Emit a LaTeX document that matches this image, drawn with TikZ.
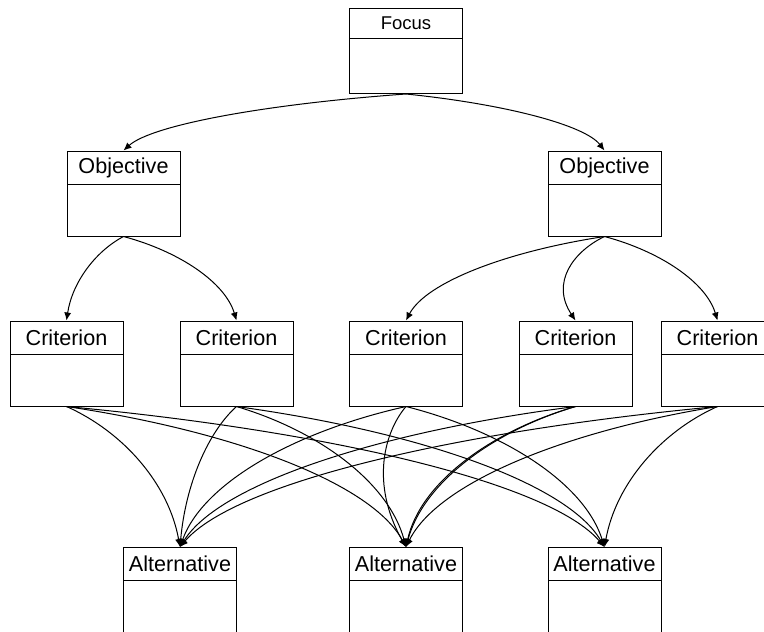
\documentclass[tikz,border=0pt]{standalone}
\usepackage{fontspec}
\setmainfont{Liberation Sans}
\usetikzlibrary{arrows.meta,calc}

\tikzset{
  ahpbox/.style={draw, line width=0.5pt, minimum width=56.5pt, minimum height=42.5pt, inner sep=0pt},
  ahphead/.style={draw, line width=0.5pt, minimum width=56.5pt, minimum height=16.5pt,
    inner sep=0pt, anchor=north, font=\fontsize{10.8}{12}\selectfont},
  link/.style={line width=0.5pt, -{Latex[length=4pt,width=3.5pt]}},
}

% box with a title bar: [head options]{name}{centre}{title}
\newcommand{\ahpnode}[4][]{%
  \node[ahpbox] (#2) at (#3) {};
  \node[ahphead,#1] (#2-head) at (#2.north) {#4};
}

% curved connector from bottom of one box to top of another,
% optional leftward bend in pt
\newcommand{\ahplink}[3][0]{%
  \draw[link] let \p1=(#2.south), \p2=(#3.north) in
    (\p1) .. controls ({\x1+0.5*(\x2-\x1)-0.6*#1pt},{\y1+0.18*(\y2-\y1)})
      and ({\x2-0.1*(\x2-\x1)-#1pt},{\y2-0.45*(\y2-\y1)}) .. (\p2);%
}

\begin{document}
\begin{tikzpicture}[x=0.5pt, y=-0.5pt]
  \useasboundingbox (0,0) rectangle (764,631);

  \ahpnode[minimum height=15pt, font=\fontsize{9.25}{11}\selectfont]{focus}{406,51}{Focus}

  \ahpnode{objL}{123.5,193.5}{Objective}
  \ahpnode{objR}{604.5,193.5}{Objective}

  \ahpnode{crit1}{66.5,363.5}{Criterion}
  \ahpnode{crit2}{236.5,363.5}{Criterion}
  \ahpnode{crit3}{406,363.5}{Criterion}
  \ahpnode{crit4}{575.5,363.5}{Criterion}
  \ahpnode{crit5}{717.5,363.5}{Criterion}

  \ahpnode{alt1}{180,590}{Alternative}
  \ahpnode{alt2}{406,590}{Alternative}
  \ahpnode{alt3}{604.5,590}{Alternative}

  \ahplink{focus}{objL}
  \ahplink{focus}{objR}

  \foreach \c in {1,2} {\ahplink{objL}{crit\c}}
  \ahplink{objR}{crit3}
  \ahplink[14]{objR}{crit4}
  \ahplink{objR}{crit5}

  % criterion -> alternative (criterion/alternative/bend)
  \foreach \c/\a/\b in {1/1/0, 1/2/0, 1/3/0, 2/1/0, 2/2/0, 2/3/0,
      3/1/0, 3/2/18, 3/3/0, 4/1/0, 4/2/0, 4/2/1.5, 5/1/0, 5/2/0, 5/3/0} {
    \ahplink[\b]{crit\c}{alt\a}
  }
\end{tikzpicture}
\end{document}
